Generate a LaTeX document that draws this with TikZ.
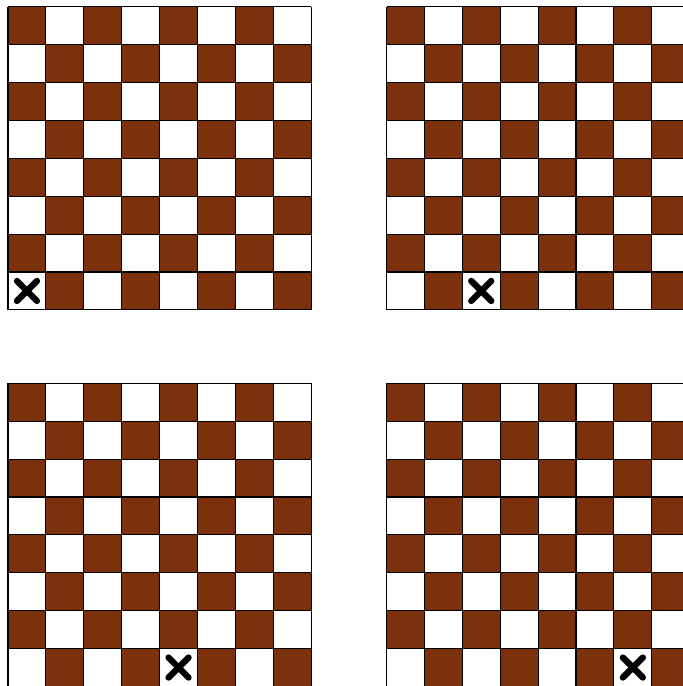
\documentclass[tikz,border=0pt]{standalone}
\definecolor{sqbrown}{RGB}{123,49,11}
\begin{document}
\begin{tikzpicture}[x=1pt,y=-1pt,
  darksq/.style={fill=sqbrown},
  gridline/.style={line width=1.1pt,draw=black},
  xmark/.style={line width=6.3pt,line cap=round,draw=black}]
\useasboundingbox (0,0) rectangle (683,686);
\clip (0,0) rectangle (683,686);
\def\s{37.9}
\foreach \bx/\by/\xc in {8/6.7/0, 386.5/6.7/2, 8/383.3/4, 386.5/383.3/6} {
  \begin{scope}[shift={(\bx,\by)}]
    \foreach \r in {0,...,7} {
      \foreach \c in {0,...,7} {
        \pgfmathtruncatemacro\parity{mod(\r+\c,2)}
        \ifnum\parity=0
          \fill[darksq] (\c*\s,\r*\s) rectangle ++(\s,\s);
        \fi
      }
    }
    \foreach \i in {0,...,8} {
      \draw[gridline] (\i*\s,0) -- (\i*\s,8*\s);
      \draw[gridline] (0,\i*\s) -- (8*\s,\i*\s);
    }
    \coordinate (xc) at (\xc*\s+0.5*\s,7.5*\s);
    \draw[xmark] ([shift={(-10,-10)}]xc) -- ([shift={(10,10)}]xc);
    \draw[xmark] ([shift={(-10,10)}]xc) -- ([shift={(10,-10)}]xc);
  \end{scope}
}
\end{tikzpicture}
\end{document}
